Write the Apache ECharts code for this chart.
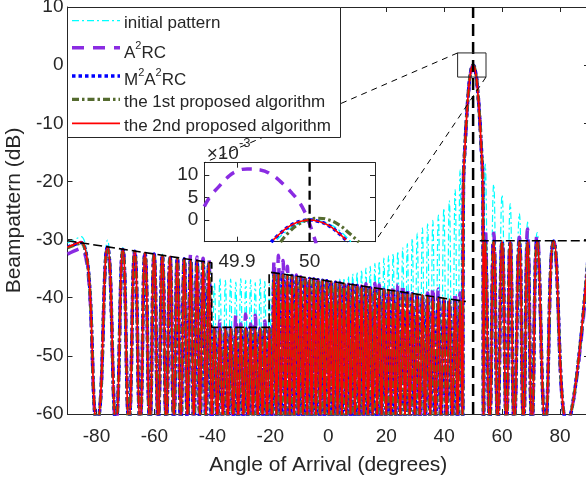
<!DOCTYPE html>
<html><head><meta charset="utf-8">
<script src="https://cdn.jsdelivr.net/npm/echarts@6/dist/echarts.min.js"></script>
<style>html,body{margin:0;padding:0;background:#fff}#c{width:586px;height:479px}</style>
</head><body><div id="c"></div>
<script>
// ================= DATA =================
const NULL_DB = -61.5;          // pattern nulls fall below the -60 dB floor
// side-lobe peak angles (deg), left region + region between -40 and the main beam
const lobeAngles = [-85.3,-76.2,-70.9,-66.8,-63.25,-60.1,-57.25,-54.6,-52.1,-49.7,-47.5,-45.3,-43.2,-41.2,
  -39.3,-37.4,-35.5,-33.7,-31.9,-30.2,-28.5,-26.8,-25.2,-23.5,-21.9,-20.3,
  -18.7,-17.2,-15.6,-14.1,-12.5,-11.0,-9.5,-8.0,-6.5,-5.0,-3.5,-2.0,-0.5,1.0,2.5,4.0,5.45,6.95,8.45,9.95,
  11.5,13.0,14.5,16.1,17.6,19.2,20.8,22.4,24.0,25.7,27.3,29.0,30.7,32.5,34.3,36.1,38.0,39.9,41.8,43.8,45.5];
// null angles between consecutive lobes
const nullAngles = [-79.8,-73.3,-68.8,-64.95,-61.6,-58.7,-55.9,-53.3,-50.9,-48.6,-46.4,-44.3,-42.2,-40.2,
  -38.3,-36.4,-34.6,-32.8,-31.1,-29.3,-27.65,-26.0,-24.3,-22.7,-21.1,-19.5,-17.9,-16.4,-14.8,-13.3,-11.8,
  -10.25,-8.75,-7.25,-5.75,-4.25,-2.75,-1.25,0.25,1.7,3.2,4.7,6.2,7.7,9.2,10.7,12.25,13.75,15.3,16.85,18.4,
  20.0,21.6,23.2,24.85,26.5,28.15,29.85,31.6,33.4,35.2,37.0,38.9,40.85,42.8,44.65];
const mainNullLeft = 46.35;
const mainBeamX  = [46.55,46.7,47.2,47.8,48.5,49.2,50,50.8,51.5,52.2,52.8,53.3,53.45];
const mainBeamDb = [-30,-19.4,-14,-8.6,-4,-1.1,0,-1.1,-4,-8.6,-14,-19.4,-30];
const mainNullRight = 53.6;
const rightAngles = [54.2,57.1,60.0,62.8,65.96,68.8,72.1,77.8];
const rightNulls  = [55.7,58.5,61.5,64.2,67.4,70.3,74.9,82.4];

// peak levels (dB) per series
const initStart = -30.6, initEnd = -30.4;
const initPeaks = [-29.5,-30.1,-31.4,-31.8,-32.1,-32.3,-32.5,-32.7,-32.9,-33.1,-33.3,-33.5,-33.6,-33.8,
  -37.5,-36.6,-37.0,-36.8,-37.3,-36.7,-37.0,-36.9,-37.4,-36.8,-37.2,-37.8,
  -35.3,-35.4,-35.7,-35.9,-36.1,-36.3,-36.6,-36.7,-36.8,-36.9,-37.0,-37.1,-37.2,-37.3,-37.2,-36.8,-36.6,-36.3,
  -35.9,-35.6,-35.2,-34.9,-34.6,-34.1,-33.7,-33.2,-32.8,-32.4,-32.0,-31.4,-30.7,-29.8,-28.9,-28.0,-27.3,-26.7,
  -25.8,-24.6,-23.3,-21.4,-18.0];
const initRight = [-17.0,-20.5,-22.3,-23.8,-25.5,-27.0,-28.8,-30.1];

const a2rcStart = -32.5, a2rcEnd = -32.8;
const a2rcPeaks = [-31.5,-31.5,-31.9,-32.2,-32.5,-32.7,-32.9,-33.1,-33.2,-33.0,-32.5,-33.0,-33.2,-33.3,
  -45.3,-44.0,-45.2,-45.2,-43.0,-44.5,-42.8,-44.5,-43.0,-45.2,-44.0,-45.2,
  -33.6,-32.7,-33.6,-34.6,-35.6,-36.1,-36.4,-36.5,-36.7,-36.8,-37.0,-37.0,-37.1,-37.2,-37.3,-37.4,-37.5,-37.7,
  -37.8,-37.9,-38.0,-37.6,-37.4,-37.5,-37.8,-38.6,-38.7,-38.4,-37.7,-37.6,-38.3,-39.3,-39.4,-39.6,-39.2,-38.2,
  -38.5,-40.1,-40.3,-39.0,-39.2];
const a2rcRight = [-28.0,-28.9,-30.4,-30.4,-29.6,-28.2,-29.2,-30.3];

const m2a2rcStart = -31.3, m2a2rcEnd = -31.0;
const m2a2rcPeaks = [-30.5,-31.3,-31.7,-32.0,-32.3,-32.5,-32.8,-33.0,-33.2,-33.3,-33.5,-33.7,-33.8,-34.0,
  -45.2,-45.2,-45.2,-45.2,-45.2,-45.2,-45.2,-45.2,-45.2,-45.2,-45.2,-45.2,
  -35.8,-35.9,-36.0,-36.1,-36.2,-36.4,-36.5,-36.6,-36.7,-36.8,-36.9,-37.0,-37.1,-37.2,-37.4,-37.5,-37.6,-37.7,
  -37.8,-37.9,-38.0,-38.1,-38.3,-38.4,-38.5,-38.6,-38.7,-38.8,-39.0,-39.1,-39.2,-39.3,-39.5,-39.6,-39.7,-39.9,
  -40.0,-40.2,-40.3,-40.4,-40.6];
const m2a2rcRight = [-30.3,-30.3,-30.3,-30.3,-30.3,-30.3,-30.3,-30.3];

const prop1Start = -31.4, prop1End = -31.0;
const prop1Peaks = [-30.6,-31.4,-31.8,-32.1,-32.4,-32.6,-32.9,-33.1,-33.3,-33.4,-33.6,-33.8,-33.9,-34.1,
  -45.3,-45.3,-45.3,-45.3,-45.3,-45.3,-45.3,-45.3,-45.3,-45.3,-45.3,-45.3,
  -35.9,-36.0,-36.1,-36.2,-36.3,-36.5,-36.6,-36.7,-36.8,-36.9,-37.0,-37.1,-37.2,-37.3,-37.5,-37.6,-37.7,-37.8,
  -37.9,-38.0,-38.1,-38.2,-38.4,-38.5,-38.6,-38.7,-38.8,-38.9,-39.1,-39.2,-39.3,-39.4,-39.6,-39.7,-39.8,-40.0,
  -40.1,-40.3,-40.4,-40.5,-40.7];
const prop1Right = [-30.4,-30.4,-30.4,-30.4,-30.4,-30.4,-30.4,-30.4];

const prop2Start = -31.3, prop2End = -30.9;
const prop2Peaks = [-30.4,-31.2,-31.6,-31.95,-32.2,-32.45,-32.7,-32.9,-33.1,-33.25,-33.4,-33.6,-33.75,-33.9,
  -45.1,-45.1,-45.1,-45.1,-45.1,-45.1,-45.1,-45.1,-45.1,-45.1,-45.1,-45.1,
  -35.7,-35.8,-35.9,-36.05,-36.15,-36.3,-36.4,-36.5,-36.6,-36.7,-36.85,-36.95,-37.05,-37.15,-37.3,-37.4,-37.5,
  -37.6,-37.75,-37.85,-37.95,-38.05,-38.2,-38.3,-38.4,-38.55,-38.65,-38.75,-38.9,-39.0,-39.15,-39.25,-39.4,
  -39.5,-39.65,-39.8,-39.95,-40.1,-40.2,-40.35,-40.5];
const prop2Right = [-30.2,-30.2,-30.2,-30.2,-30.2,-30.2,-30.2,-30.2];

// desired side-lobe mask (black dashed)
const maskX = [-90,-40.2,-40.2,-20.4,-20.4,47.5];
const maskY = [-30.2,-34.0,-45.1,-45.1,-35.6,-40.65];
const maskRightX = [52.3,90];
const maskRightY = [-30.2,-30.2];
const steerAngle = 50;

// zoom rectangle around the main-beam peak
const zoomBoxX = [44.65,54.45];
const zoomBoxY = [-2.05,2.1];

// inset (x in degrees, y in units of 1e-3 dB)
const insetInitX = [49.955,49.97,49.985,50.005,50.025,50.04,50.057];
const insetInitY = [-4.4,-2.2,-0.8,-0.05,-0.8,-2.2,-4.9];
const insetA2rcX = [49.855,49.863,49.875,49.886,49.898,49.914,49.932,49.948,49.96,49.976,49.985,49.993,49.999,50.006,50.009];
const insetA2rcY = [3.0,5.2,7.4,9.3,10.7,11.3,11.1,10.0,8.5,5.9,4.1,1.9,-0.4,-3.7,-5.2];
const insetM2X = [49.947,49.96,49.975,49.99,50.0,50.01,50.025,50.04,50.053];
const insetM2Y = [-4.9,-2.9,-1.1,-0.2,0,-0.2,-1.1,-2.9,-4.9];
const insetP1X = [49.96,49.972,49.985,50.0,50.012,50.025,50.04,50.055,50.068];
const insetP1Y = [-4.9,-2.6,-0.9,0.15,0.4,0.1,-1.0,-3.0,-4.9];
const insetP2X = [49.95,49.962,49.975,49.99,50.0,50.01,50.025,50.038,50.05];
const insetP2Y = [-4.4,-2.6,-1.1,-0.2,0,-0.2,-1.1,-2.6,-4.4];

const legendNames = ['initial pattern','A2RC','M2A2RC','the 1st proposed algorithm','the 2nd proposed algorithm'];

// ================= BUILD =================
const TXT = '#262626';
const FONT = '"Liberation Sans", Arial, Helvetica, sans-serif';

function buildPattern(start, peaks, right, end) {
  const pts = [[-90, start]];
  for (let i = 0; i < lobeAngles.length; i++) {
    pts.push([lobeAngles[i], peaks[i]]);
    if (i < nullAngles.length) pts.push([nullAngles[i], NULL_DB]);
  }
  pts.push([mainNullLeft, NULL_DB]);
  mainBeamX.forEach((x, i) => pts.push([x, mainBeamDb[i]]));
  pts.push([mainNullRight, NULL_DB]);
  for (let j = 0; j < rightAngles.length; j++) {
    pts.push([rightAngles[j], right[j]]);
    pts.push([rightNulls[j], NULL_DB]);
  }
  pts.push([90, end]);
  return pts;
}
const zip = (xs, ys) => xs.map((x, i) => [x, ys[i]]);

const styles = [
  {color:'#00FFFF', width:1.2, type:[7,3,2,3]},
  {color:'#8A2BE2', width:3.5, type:[12,9]},
  {color:'#0000FF', width:3.5, type:[3.5,3]},
  {color:'#556B2F', width:3.2, type:[7,3,2.5,3]},
  {color:'#FF0000', width:1.7, type:'solid'}
];
const mainData = [
  buildPattern(initStart, initPeaks, initRight, initEnd),
  buildPattern(a2rcStart, a2rcPeaks, a2rcRight, a2rcEnd),
  buildPattern(m2a2rcStart, m2a2rcPeaks, m2a2rcRight, m2a2rcEnd),
  buildPattern(prop1Start, prop1Peaks, prop1Right, prop1End),
  buildPattern(prop2Start, prop2Peaks, prop2Right, prop2End)
];
const insetData = [
  zip(insetInitX, insetInitY), zip(insetA2rcX, insetA2rcY), zip(insetM2X, insetM2Y),
  zip(insetP1X, insetP1Y), zip(insetP2X, insetP2Y)
];

const series = [];
mainData.forEach((d, i) => series.push({
  type:'line', xAxisIndex:0, yAxisIndex:0, data:d, smooth:0.5, symbol:'none', clip:true, silent:true,
  lineStyle:{color:styles[i].color, width:styles[i].width, type:styles[i].type, cap:'butt'}
}));
series.push({type:'line', xAxisIndex:0, yAxisIndex:0, data:zip(maskX, maskY), symbol:'none', silent:true,
  lineStyle:{color:'#000', width:1.6, type:[9,4]}});
series.push({type:'line', xAxisIndex:0, yAxisIndex:0, data:zip(maskRightX, maskRightY), symbol:'none', silent:true,
  lineStyle:{color:'#000', width:1.6, type:[9,4]}});
series.push({type:'line', xAxisIndex:0, yAxisIndex:0, data:[[steerAngle,-60],[steerAngle,10]], symbol:'none', silent:true,
  lineStyle:{color:'#000', width:2.5, type:[12,6]}});
series.push({type:'line', xAxisIndex:0, yAxisIndex:0, symbol:'none', silent:true,
  data:[[zoomBoxX[0],zoomBoxY[1]],[zoomBoxX[1],zoomBoxY[1]],[zoomBoxX[1],zoomBoxY[0]],[zoomBoxX[0],zoomBoxY[0]],[zoomBoxX[0],zoomBoxY[1]]],
  lineStyle:{color:TXT, width:1}});
insetData.forEach((d, i) => series.push({
  type:'line', xAxisIndex:2, yAxisIndex:2, data:d, smooth:0.5, symbol:'none', clip:true, silent:true,
  lineStyle:{color:styles[i].color, width:i===4?1.6:(i===0?1.4:styles[i].width), type:i===1?[10,8]:styles[i].type, cap:'butt'}
}));
series.push({type:'line', xAxisIndex:2, yAxisIndex:2, data:[[steerAngle,-4.8],[steerAngle,12.7]], symbol:'none', silent:true,
  lineStyle:{color:'#000', width:2.3, type:[9,5]}});

const aLine = {show:true, onZero:false, lineStyle:{color:TXT, width:1}};
const aTick = {show:true, inside:true, length:5, lineStyle:{color:TXT, width:1}};
const lbl = (o) => Object.assign({color:TXT, fontSize:19, fontFamily:FONT}, o);
const fmt20 = v => (Math.abs(v % 20) < 1e-9 ? String(v) : '');
const fmtIn = v => (Math.abs(v*10 - Math.round(v*10)) < 1e-6 ? String(Math.round(v*10)/10) : '');
const fmt5 = v => (Math.abs(v/5 - Math.round(v/5)) < 1e-6 ? String(Math.round(v)) : '');

const option = {
  animation:false,
  backgroundColor:'#fff',
  grid:[
    {left:67.5, top:7, width:521.5, height:407, containLabel:false, outerBoundsMode:'none'},
    {left:204.3, top:162.7, width:170.7, height:79, containLabel:false, outerBoundsMode:'none'}
  ],
  xAxis:[
    {gridIndex:0, type:'value', position:'bottom', min:-90, max:90, splitNumber:9, minInterval:20, maxInterval:20,
     axisLine:aLine, axisTick:aTick, splitLine:{show:false},
     axisLabel:lbl({margin:13, formatter:fmt20}),
     name:'Angle of Arrival (degrees)', nameLocation:'middle', nameGap:41,
     nameTextStyle:{color:TXT, fontSize:21, fontFamily:FONT}},
    {gridIndex:0, type:'value', position:'top', min:-90, max:90, splitNumber:9, minInterval:20, maxInterval:20,
     axisLine:aLine, axisTick:aTick, splitLine:{show:false}, axisLabel:{show:false}},
    {gridIndex:1, type:'value', position:'bottom', min:49.855, max:50.09, splitNumber:2, minInterval:0.1, maxInterval:0.1,
     axisLine:aLine, axisTick:aTick, splitLine:{show:false}, axisLabel:lbl({margin:11, formatter:fmtIn})},
    {gridIndex:1, type:'value', position:'top', min:49.855, max:50.09, splitNumber:2, minInterval:0.1, maxInterval:0.1,
     axisLine:aLine, axisTick:aTick, splitLine:{show:false}, axisLabel:{show:false}}
  ],
  yAxis:[
    {gridIndex:0, type:'value', position:'left', min:-60, max:10, interval:10,
     axisLine:aLine, axisTick:aTick, splitLine:{show:false}, axisLabel:lbl({margin:4}),
     name:'Beampattern (dB)', nameLocation:'middle', nameGap:42, nameRotate:90,
     nameTextStyle:{color:TXT, fontSize:21, fontFamily:FONT}},
    {gridIndex:0, type:'value', position:'right', min:-60, max:10, interval:10,
     axisLine:aLine, axisTick:aTick, splitLine:{show:false}, axisLabel:{show:false}},
    {gridIndex:1, type:'value', position:'left', min:-4.8, max:12.7, splitNumber:3, minInterval:5, maxInterval:5,
     axisLine:aLine, axisTick:aTick, splitLine:{show:false}, axisLabel:lbl({margin:6, formatter:fmt5})},
    {gridIndex:1, type:'value', position:'right', min:-4.8, max:12.7, splitNumber:3, minInterval:5, maxInterval:5,
     axisLine:aLine, axisTick:aTick, splitLine:{show:false}, axisLabel:{show:false}}
  ],
  series
};

const chart = echarts.init(document.getElementById('c'), null, {renderer:'canvas', width:586, height:479});
chart.setOption(option);

// ---- legend, exponent label and zoom connectors ----
const mctx = document.createElement('canvas').getContext('2d');
function tw(s, size) { mctx.font = size + 'px "Liberation Sans"'; return mctx.measureText(s).width; }
const g = [];
g.push({type:'rect', z:100, shape:{x:67.5, y:7.5, width:273, height:130}, style:{fill:'#fff', stroke:TXT, lineWidth:1}});
const rowLineY = [20.7, 47.7, 76, 99.3, 123.3];
const rowTextY = [23.4, 53.2, 80, 102.2, 126];
const rowSupY  = [0, 46, 72.8, 0, 0];
const rowParts = [
  [[legendNames[0], false]],
  [['A', false], ['2', true], ['RC', false]],
  [['M', false], ['2', true], ['A', false], ['2', true], ['RC', false]],
  [[legendNames[3], false]],
  [[legendNames[4], false]]
];
styles.forEach((s, i) => {
  g.push({type:'line', z:101, shape:{x1:72, y1:rowLineY[i], x2:120, y2:rowLineY[i]},
    style:{stroke:s.color, lineWidth:s.width, lineDash: s.type === 'solid' ? null : s.type, lineCap:'butt'}});
  let cx = 124;
  rowParts[i].forEach(([txt, sup]) => {
    const size = sup ? 11 : 17;
    g.push({type:'text', z:101, x:cx, y: sup ? rowSupY[i] : rowTextY[i],
      style:{text:txt, font: size + 'px "Liberation Sans"', fill:TXT, align:'left', verticalAlign:'middle'}});
    cx += tw(txt, size);
  });
});
// exponent label of the inset
g.push({type:'text', z:101, x:206.7, y:154, style:{text:'\u00D710', font:'19px "Liberation Sans"', fill:TXT, align:'left', verticalAlign:'middle'}});
g.push({type:'text', z:101, x:206.7 + tw('\u00D710', 19), y:143.5, style:{text:'-3', font:'13px "Liberation Sans"', fill:TXT, align:'left', verticalAlign:'middle'}});
// connectors from zoom box to inset
const p1 = chart.convertToPixel({xAxisIndex:0, yAxisIndex:0}, [zoomBoxX[0], zoomBoxY[1]]);
const p2 = chart.convertToPixel({xAxisIndex:0, yAxisIndex:0}, [zoomBoxX[1], zoomBoxY[0]]);
const q1 = chart.convertToPixel({xAxisIndex:2, yAxisIndex:2}, [49.855, 12.7]);
const q2 = chart.convertToPixel({xAxisIndex:2, yAxisIndex:2}, [50.09, -4.8]);
[[p1,q1],[p2,q2]].forEach(([a,b]) => g.push({type:'line', z:99, shape:{x1:a[0], y1:a[1], x2:b[0], y2:b[1]},
  style:{stroke:'#000', lineWidth:1, lineDash:[6,5]}}));
chart.setOption({graphic:g});
</script>
</body></html>
